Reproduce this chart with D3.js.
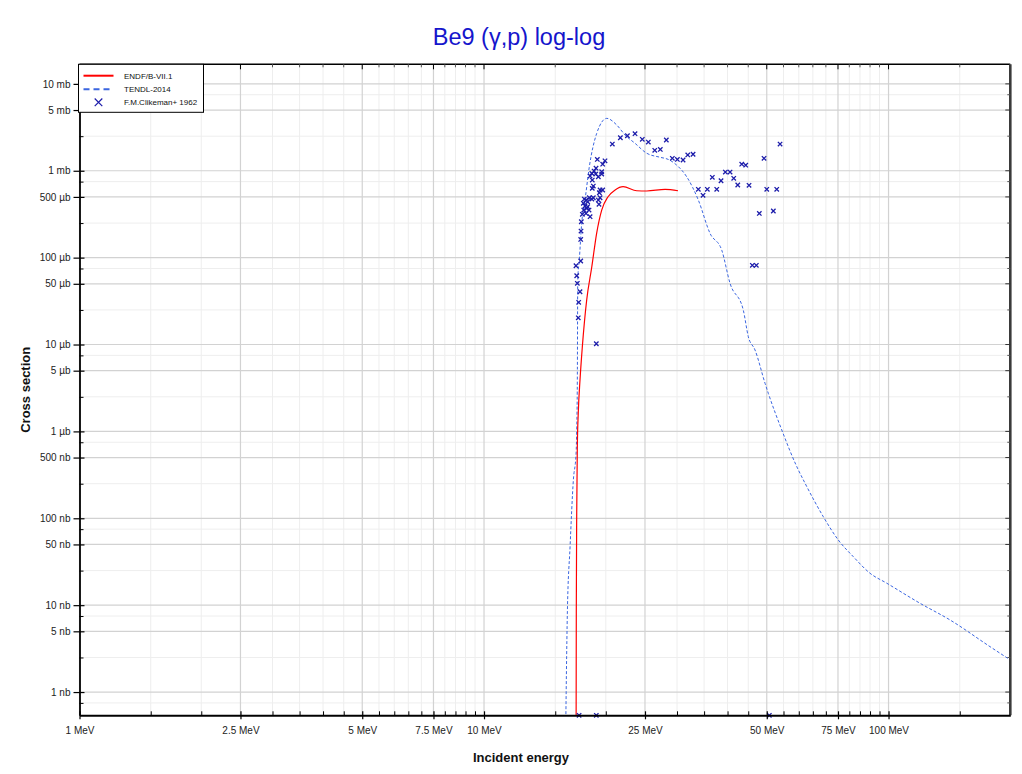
<!DOCTYPE html>
<html>
<head>
<meta charset="utf-8">
<script src="https://cdn.jsdelivr.net/npm/d3@7"></script>
<style>
  html, body { margin: 0; padding: 0; background: #ffffff; }
  svg { display: block; font-family: "Liberation Sans", Arial, Helvetica, sans-serif; }
</style>
</head>
<body>
<svg id="chart" width="1022" height="774"></svg>
<script>
// Energies in MeV, cross sections in mb.

// ENDF/B-VII.1 evaluation
const endfE  = [16.89, 16.91, 16.95, 17.01, 17.10, 17.27, 17.50, 17.94, 18.47, 18.99, 19.54, 20.26, 21.09, 22.07, 23.85, 25.25, 28.03, 30.17];
const endfXS = [3e-7, 8.1e-6, 1.15e-4, 6.7e-4, 1.63e-3, 3.9e-3, 9.4e-3, 0.0325, 0.0785, 0.192, 0.353, 0.502, 0.600, 0.655, 0.589, 0.585, 0.611, 0.589];

// TENDL-2014 evaluation
const tendlE  = [15.90, 16.07, 16.32, 16.63, 16.89, 16.95, 17.01, 17.05, 17.20, 17.44, 17.77, 18.21, 18.99, 20.11, 21.29, 22.32, 23.62, 25.25, 27.24, 28.55, 29.95, 31.70, 33.87, 36.21, 38.70, 40.57, 43.75, 45.02, 46.77, 49.51, 50.45, 54.45, 59.32, 62.18, 69.01, 75.14, 81.85, 90.0, 98.99, 119.7, 141.9, 178.2, 200.0];
const tendlXS = [2.2e-7, 8.1e-6, 4.71e-5, 2.76e-4, 5.64e-4, 1.04e-3, 3.9e-3, 0.0552, 0.094, 0.251, 0.461, 1.11, 2.69, 4.01, 3.36, 2.58, 2.07, 1.59, 1.43, 1.35, 1.16, 0.853, 0.460, 0.190, 0.122, 0.0506, 0.0249, 0.0123, 8.65e-3, 3.58e-3, 2.74e-3, 1.04e-3, 3.93e-4, 2.53e-4, 1.04e-4, 5.62e-5, 3.61e-5, 2.33e-5, 1.79e-5, 1.05e-5, 6.76e-6, 3.33e-6, 2.34e-6];

// F.M.Clikeman+ 1962 measurement (zero values sit on the lower axis)
const clikemanE = [20.76, 21.73, 22.62, 23.62, 24.62, 25.48, 28.23, 26.43, 27.28, 29.21, 30.06, 31.05, 31.89, 32.87, 33.87, 34.79, 35.65, 36.68, 37.61, 38.54, 39.50, 40.57, 41.43, 42.39, 43.36, 44.36, 45.20, 47.93, 49.23, 50.0, 51.91, 52.92, 53.93, 46.06, 47.12, 18.95,
  19.06, 19.91, 19.65, 19.54, 19.54, 18.92, 18.71, 18.47, 18.29, 18.89, 19.17, 18.52, 18.63, 18.52, 19.36, 19.65, 19.28, 19.36, 19.17, 19.24, 18.63, 18.47, 18.21, 17.70, 17.87, 18.04, 17.60, 17.77, 18.04, 18.18, 17.64, 17.50, 17.87, 18.29, 17.94, 17.40, 17.37, 17.34, 16.88, 17.34, 16.95, 17.01, 17.27, 17.14, 17.10,
  17.18, 18.95, 50.74];
const clikemanXS = [2.03, 2.40, 2.53, 2.67, 2.30, 2.14, 2.26, 1.72, 1.76, 1.39, 1.35, 1.33, 1.52, 1.55, 0.611, 0.521, 0.611, 0.840, 0.611, 0.767, 0.966, 0.966, 0.818, 0.685, 1.19, 1.16, 0.679, 0.323, 1.39, 0.611, 0.344, 0.611, 2.03, 0.0815, 0.0815, 0.0102,
  1.35, 1.30, 1.19, 0.974, 0.916, 1.07, 0.992, 0.933, 0.869, 0.916, 0.853, 0.782, 0.667, 0.627, 0.600, 0.600, 0.558, 0.489, 0.460, 0.411, 0.489, 0.472, 0.489, 0.472, 0.460, 0.440, 0.422, 0.393, 0.385, 0.353, 0.353, 0.315, 0.323, 0.296, 0.369, 0.259, 0.202, 0.162, 0.0807, 0.0914, 0.0619, 0.0506, 0.0405, 0.0306, 0.0203,
  0, 0, 0];

// Axis ticks
const xTickValues = [1, 2.5, 5, 7.5, 10, 25, 50, 75, 100];
const xTickLabels = ["1 MeV", "2.5 MeV", "5 MeV", "7.5 MeV", "10 MeV", "25 MeV", "50 MeV", "75 MeV", "100 MeV"];
const xMinorValues = [1.5, 2, 3, 3.5, 4, 4.5, 5.5, 6, 6.5, 7, 8, 8.5, 9, 9.5, 15, 20, 30, 35, 40, 45, 55, 60, 65, 70, 80, 85, 90, 95, 150];
const yTickValues = [1e-6, 5e-6, 1e-5, 5e-5, 1e-4, 5e-4, 1e-3, 5e-3, 0.01, 0.05, 0.1, 0.5, 1, 5, 10];
const yTickLabels = ["1 nb", "5 nb", "10 nb", "50 nb", "100 nb", "500 nb", "1 µb", "5 µb", "10 µb", "50 µb", "100 µb", "500 µb", "1 mb", "5 mb", "10 mb"];
const yMinorValues = [7.5e-7, 2.5e-6, 7.5e-6, 2.5e-5, 7.5e-5, 2.5e-4, 7.5e-4, 2.5e-3, 7.5e-3, 0.025, 0.075, 0.25, 0.75, 2.5, 7.5];

const seriesNames = ["ENDF/B-VII.1", "TENDL-2014", "F.M.Clikeman+ 1962"];

const colEndf = "#ff0000";
const colTendl = "#3b66e0";
const colExp = "#1c1caa";

const svg = d3.select("#chart");
const L = 79.5, R = 1010.3, T = 64.3, B = 715.3;

const x = d3.scaleLog().domain([1, 200]).range([L, R]);
const y = d3.scaleLog().domain([5.4e-7, 16.8]).range([B, T]);

// Title
svg.append("text")
  .attr("x", 519).attr("y", 45)
  .attr("text-anchor", "middle")
  .attr("font-size", 23.5)
  .attr("fill", "#1515cc")
  .text("Be9 (γ,p) log-log");

// Grid
const grid = svg.append("g");
grid.selectAll(".vmin").data(xMinorValues).join("line")
  .attr("x1", d => x(d)).attr("x2", d => x(d)).attr("y1", T).attr("y2", B)
  .attr("stroke", "#eeeeee").attr("stroke-width", 1);
grid.selectAll(".hmin").data(yMinorValues.filter(v => v > y.domain()[0])).join("line")
  .attr("x1", L).attr("x2", R).attr("y1", d => y(d)).attr("y2", d => y(d))
  .attr("stroke", "#eeeeee").attr("stroke-width", 1);
grid.selectAll(".vmaj").data(xTickValues).join("line")
  .attr("x1", d => x(d)).attr("x2", d => x(d)).attr("y1", T).attr("y2", B)
  .attr("stroke", "#d2d2d2").attr("stroke-width", 1.2);
grid.selectAll(".hmaj").data(yTickValues).join("line")
  .attr("x1", L).attr("x2", R).attr("y1", d => y(d)).attr("y2", d => y(d))
  .attr("stroke", "#d2d2d2").attr("stroke-width", 1.2);

// Data layer clipped to the plot area
svg.append("clipPath").attr("id", "plotclip")
  .append("rect").attr("x", L).attr("y", T).attr("width", R - L).attr("height", B - T);
const plot = svg.append("g").attr("clip-path", "url(#plotclip)");

const line = d3.line().x(d => x(d[0])).y(d => y(d[1])).curve(d3.curveMonotoneX);

plot.append("path")
  .datum(tendlE.map((e, i) => [e, tendlXS[i]]))
  .attr("d", line)
  .attr("fill", "none").attr("stroke", colTendl).attr("stroke-width", 1)
  .attr("stroke-dasharray", "3,2");

plot.append("path")
  .datum(endfE.map((e, i) => [e, endfXS[i]]))
  .attr("d", line)
  .attr("fill", "none").attr("stroke", colEndf).attr("stroke-width", 1.2);

const cross = s => `M${-s},${-s}L${s},${s}M${-s},${s}L${s},${-s}`;
const yPos = v => v > 0 ? y(v) : B;
svg.append("g").selectAll("path").data(clikemanE.map((e, i) => [e, clikemanXS[i]])).join("path")
  .attr("transform", d => `translate(${x(d[0])},${yPos(d[1])})`)
  .attr("d", cross(2.2))
  .attr("fill", "none").attr("stroke", colExp).attr("stroke-width", 1.3);

// Frame: top and right borders
svg.append("line").attr("x1", L).attr("x2", R).attr("y1", T).attr("y2", T)
  .attr("stroke", "#000").attr("stroke-width", 1.5);
svg.append("line").attr("x1", R).attr("x2", R).attr("y1", T).attr("y2", B)
  .attr("stroke", "#3a3a3a").attr("stroke-width", 2.6);

// Mirrored ticks along top and right borders
const topT = svg.append("g");
topT.selectAll(".tmaj").data(xTickValues).join("line")
  .attr("x1", d => x(d)).attr("x2", d => x(d)).attr("y1", T).attr("y2", T + 5)
  .attr("stroke", "#000");
topT.selectAll(".tmin").data(xMinorValues).join("line")
  .attr("x1", d => x(d)).attr("x2", d => x(d)).attr("y1", T).attr("y2", T + 3)
  .attr("stroke", "#555");
const rightT = svg.append("g");
rightT.selectAll(".rmaj").data(yTickValues).join("line")
  .attr("x1", R - 5).attr("x2", R).attr("y1", d => y(d)).attr("y2", d => y(d))
  .attr("stroke", "#333");
rightT.selectAll(".rmin").data(yMinorValues.filter(v => v > y.domain()[0])).join("line")
  .attr("x1", R - 3).attr("x2", R).attr("y1", d => y(d)).attr("y2", d => y(d))
  .attr("stroke", "#555");

// Bottom axis
const xAxis = d3.axisBottom(x).tickValues(xTickValues)
  .tickFormat((d, i) => xTickLabels[i]).tickSizeOuter(0).tickSizeInner(4).tickPadding(8);
const gx = svg.append("g").attr("transform", `translate(0,${B})`).call(xAxis);
gx.select(".domain").attr("stroke", "#000").attr("stroke-width", 2);
gx.selectAll(".tick line").attr("y1", -4).attr("stroke-width", 1.2);
gx.selectAll(".tick text").attr("font-size", 10).attr("fill", "#222").attr("font-family", "Liberation Sans, Arial, sans-serif");
const gxm = svg.append("g").attr("transform", `translate(0,${B})`)
  .call(d3.axisBottom(x).tickValues(xMinorValues).tickFormat("").tickSizeOuter(0).tickSizeInner(-4));
gxm.select(".domain").remove();

// Left axis
const yAxis = d3.axisLeft(y).tickValues(yTickValues)
  .tickFormat((d, i) => yTickLabels[i]).tickSizeOuter(0).tickSizeInner(6).tickPadding(3);
const gy = svg.append("g").attr("transform", `translate(${L},0)`).call(yAxis);
gy.select(".domain").attr("stroke", "#000").attr("stroke-width", 1.8);
gy.selectAll(".tick line").attr("x2", -6).attr("x1", 5).attr("stroke-width", 1.2);
gy.selectAll(".tick text").attr("x", -9).attr("font-size", 10).attr("fill", "#222").attr("font-family", "Liberation Sans, Arial, sans-serif");
const gym = svg.append("g").attr("transform", `translate(${L},0)`)
  .call(d3.axisLeft(y).tickValues(yMinorValues.filter(v => v > y.domain()[0])).tickFormat("").tickSizeOuter(0).tickSizeInner(-4));
gym.select(".domain").remove();

// Axis titles
svg.append("text")
  .attr("x", 521).attr("y", 762)
  .attr("text-anchor", "middle").attr("font-size", 13).attr("font-weight", "bold").attr("fill", "#111")
  .text("Incident energy");
svg.append("text")
  .attr("transform", `translate(30,${(T + B) / 2}) rotate(-90)`)
  .attr("text-anchor", "middle").attr("font-size", 13).attr("font-weight", "bold").attr("fill", "#111")
  .text("Cross section");

// Legend
const lg = svg.append("g");
lg.append("rect").attr("x", 78.5).attr("y", 64.3).attr("width", 125).attr("height", 48)
  .attr("fill", "#fff").attr("stroke", "#000").attr("stroke-width", 1);
const rows = [75.7, 89.3, 102.3];
lg.append("line").attr("x1", 83.5).attr("x2", 113.5).attr("y1", rows[0]).attr("y2", rows[0])
  .attr("stroke", colEndf).attr("stroke-width", 2);
lg.append("line").attr("x1", 83.5).attr("x2", 113.5).attr("y1", rows[1]).attr("y2", rows[1])
  .attr("stroke", colTendl).attr("stroke-width", 2).attr("stroke-dasharray", "6,4");
lg.append("path").attr("transform", `translate(98.5,${rows[2]})`).attr("d", cross(3.8))
  .attr("fill", "none").attr("stroke", colExp).attr("stroke-width", 1.2);
lg.selectAll("text").data(seriesNames).join("text")
  .attr("x", 124).attr("y", (d, i) => rows[i] + 3)
  .attr("font-size", 8).attr("fill", "#111")
  .text(d => d);
</script>
</body>
</html>
